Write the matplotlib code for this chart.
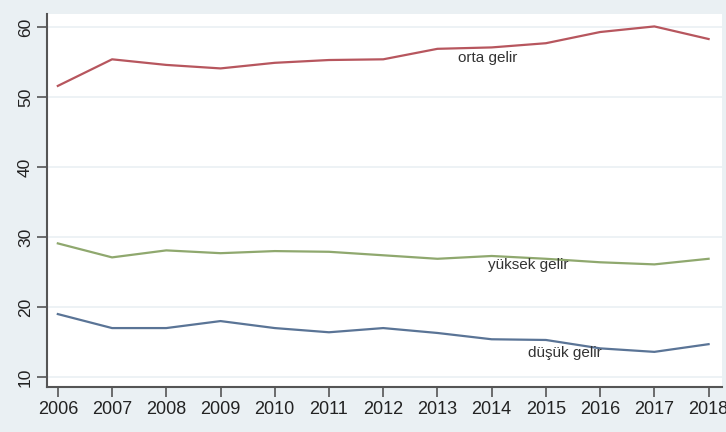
import numpy as np
import matplotlib.pyplot as plt

plt.rcParams['font.family'] = ['Liberation Sans', 'DejaVu Sans']

years = [2006, 2007, 2008, 2009, 2010, 2011, 2012, 2013, 2014, 2015, 2016, 2017, 2018]
orta = [51.6, 55.4, 54.6, 54.1, 54.9, 55.3, 55.4, 56.9, 57.1, 57.7, 59.3, 60.1, 58.3]
yuksek = [29.1, 27.1, 28.1, 27.7, 28.0, 27.9, 27.4, 26.9, 27.3, 26.9, 26.4, 26.1, 26.9]
dusuk = [19.0, 17.0, 17.0, 18.0, 17.0, 16.4, 17.0, 16.3, 15.4, 15.3, 14.1, 13.6, 14.7]
yticks = [10, 20, 30, 40, 50, 60]

bg = '#eaf0f3'
fig = plt.figure(figsize=(7.26, 4.32), dpi=100, facecolor=bg)
ax = fig.add_axes([0.0647, 0.104, 0.93, 0.864])
ax.set_facecolor('white')

ax.plot(years, orta, color='#b7565e', lw=1.6)
ax.plot(years, yuksek, color='#8fa86e', lw=1.6)
ax.plot(years, dusuk, color='#5a7496', lw=1.6)

# labels placed on the lines like the original
ax.text(2013.37, 55.6, 'orta gelir', fontsize=11, color='#333333', va='center')
ax.text(2013.93, 26.0, 'yüksek gelir', fontsize=11, color='#333333', va='center')
ax.text(2014.67, 13.5, 'düşük gelir', fontsize=11, color='#333333', va='center')

ax.set_xlim(2005.8, 2018.25)
ax.set_ylim(8.57, 61.9)
ax.set_yticks(yticks)
ax.set_xticks(years)
ax.tick_params(axis='x', labelsize=13, length=7, width=1.2, color='#555555', labelcolor='#222222', pad=3)
ax.tick_params(axis='y', labelsize=12.5, length=7, width=1.2, color='#555555', labelcolor='#222222', pad=3)
for lab in ax.get_yticklabels():
    lab.set_rotation(90)
    lab.set_va('center')

ax.grid(axis='y', color=bg, lw=1.2)
ax.set_axisbelow(True)
for s in ['top', 'right']:
    ax.spines[s].set_visible(False)
for s in ['left', 'bottom']:
    ax.spines[s].set_color('#555555')
    ax.spines[s].set_linewidth(1.5)

fig.savefig('out.png', dpi=100, facecolor=bg)
